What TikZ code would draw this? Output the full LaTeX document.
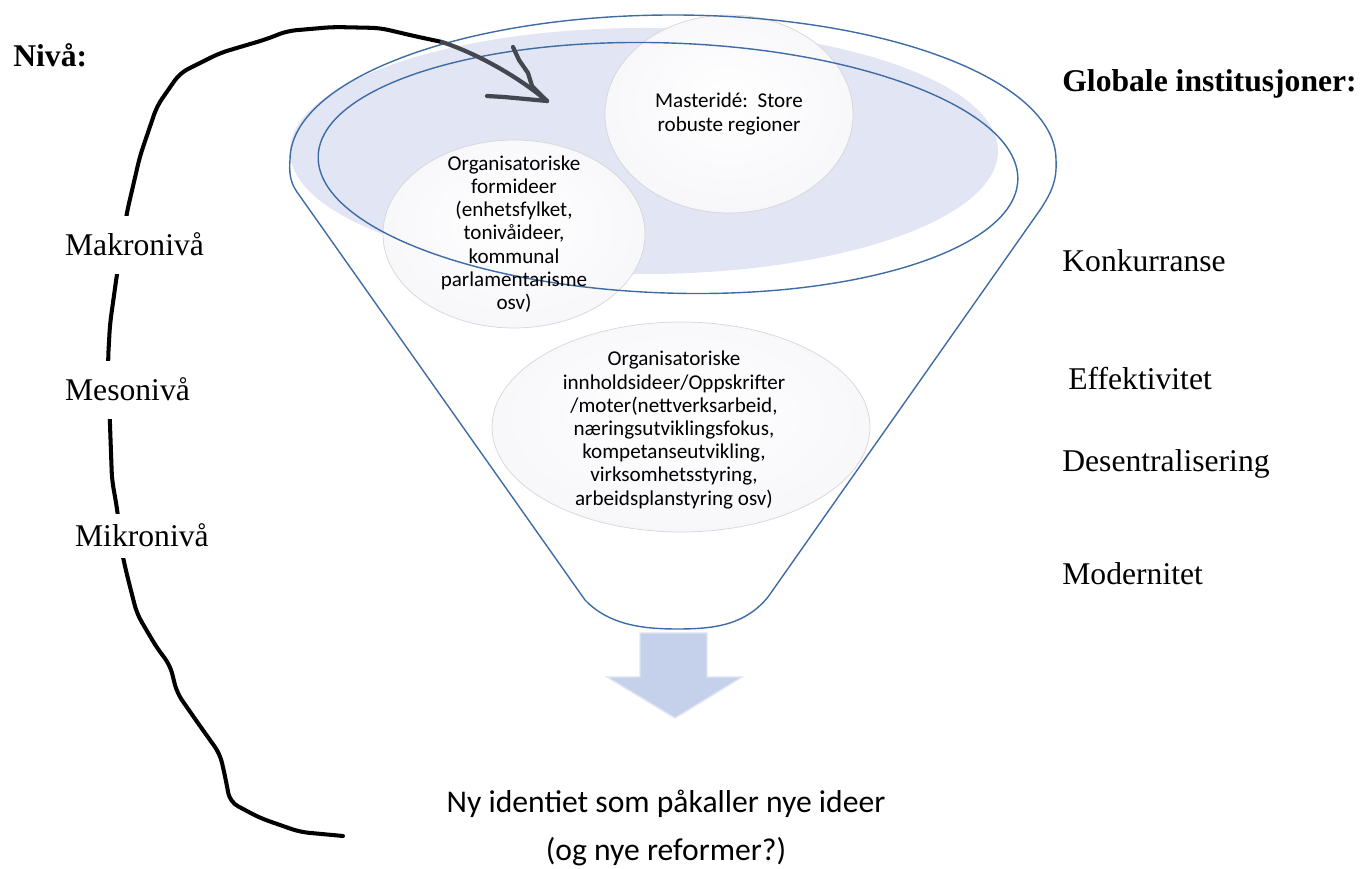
\documentclass[tikz,border=0pt]{standalone}
\usepackage{fontspec}
\usepackage{tikz}
\usetikzlibrary{shapes.geometric}
\setmainfont{Liberation Serif}
\newfontfamily\calibri{Carlito}
\definecolor{funnelblue}{RGB}{62,108,165}
\definecolor{bowlfill}{RGB}{226,229,243}
\definecolor{bubblecore}{RGB}{244,244,249}
\definecolor{arrowblue}{RGB}{197,208,234}
\definecolor{scribble}{RGB}{68,70,80}
\pgfdeclareradialshading{bubble}{\pgfpoint{0bp}{4bp}}{color(0bp)=(white); color(38bp)=(bubblecore); color(45bp)=(bubblecore); color(47.5bp)=(black!14); color(49bp)=(black!24); color(50bp)=(black!12)}

\begin{document}
\begin{tikzpicture}
[x=0.2mm,y=0.2mm,
bubble/.style={ellipse,shading=bubble,draw=black!16,line width=0.4pt,inner sep=0pt},
bubbletext/.style={align=center,font=\calibri\fontsize{12}{13.2}\selectfont},
funnelline/.style={draw=funnelblue,line width=0.8pt},
levellabel/.style={anchor=base west,font=\fontsize{18}{21}\selectfont,fill=white,inner xsep=1pt,inner ysep=10pt},
forcelabel/.style={anchor=base west,font=\fontsize{18}{21}\selectfont,inner sep=0pt},
curve/.style={line width=2.3pt,line join=round,line cap=round,rounded corners=5pt},
scribblearrow/.style={draw=scribble,line width=2.4pt,line join=round,line cap=round}]
\useasboundingbox (0,0) rectangle (1362,-869);

\fill[bowlfill] (644,-151) ellipse (7.08cm and 2.46cm);

\node[bubble,minimum width=4.96cm,minimum height=3.96cm] (master) at (729,-114) {};
\node[bubble,minimum width=5.24cm,minimum height=3.76cm] (formideer) at (514,-234) {};
\node[bubble,minimum width=7.56cm,minimum height=4.2cm] (innhold) at (681,-427) {};

\draw[funnelline] (585,-600) -- (297,-192)
.. controls (290,-182) and (289,-172) .. (290,-160)
arc[start angle=180,end angle=0,x radius=7.66cm,y radius=2.9cm]
.. controls (1057,-180) and (1052,-192) .. (1040,-210)
-- (768,-597)
.. controls (745,-625) and (715,-629) .. (677,-629)
.. controls (640,-629) and (608,-624) .. (585,-600) -- cycle;
\draw[funnelline,rotate around={-2:(668,-168)}] (668,-168) ellipse (7cm and 2.5cm);

\node[bubbletext] (mastertext) at (master.center) {Masteridé:\ \ Store\\robuste regioner};
\node[bubbletext] (formtext) at (formideer.center) {Organisatoriske\\formideer\\(enhetsfylket,\\tonivåideer,\\kommunal\\parlamentarisme\\osv)};
\node[bubbletext] (innholdtext) at (674,-430) {Organisatoriske\\innholdsideer/Oppskrifter\\/moter(nettverksarbeid,\\næringsutviklingsfokus,\\kompetanseutvikling,\\virksomhetsstyring,\\arbeidsplanstyring osv)};

\fill[arrowblue,draw=arrowblue!55!white,line width=0.8pt] (640,-633) -- (707,-633) -- (707,-677) -- (742,-677)
-- (675,-718) -- (607,-677) -- (640,-677) -- cycle;
\node[font=\calibri\fontsize{18}{27.8}\selectfont,align=center] (result) at (666,-828)
{Ny identiet som påkaller nye ideer\\(og nye reformer?)};

\coordinate (curvestart) at (343,-836);
\coordinate (curveend) at (442,-42);
\draw[curve] (curvestart) -- (300,-832) -- (260,-818) -- (230,-802) -- (225,-776) -- (220,-754)
-- (200,-726) -- (177,-693) -- (170,-665) -- (157,-648) -- (137,-614) -- (127,-575)
-- (122,-553) -- (117,-508) -- (112,-480) -- (110,-425) -- (108,-360) -- (110,-324)
-- (117,-274) -- (127,-212) -- (140,-156) -- (157,-106) -- (180,-73) -- (220,-53)
-- (267,-39) -- (287,-31) -- (333,-27) -- (380,-28) -- (414,-36) -- (curveend);

\coordinate (scribbletip) at (547,-101);
\draw[scribblearrow] (curveend) .. controls (472,-52) and (512,-72) .. (scribbletip);
\draw[scribblearrow] (487,-96) -- (504,-97) -- (scribbletip);
\draw[scribblearrow] (513,-47) -- (519,-60) -- (528,-73) -- (532,-86) -- (scribbletip);

\node[forcelabel,font=\fontsize{18}{21}\selectfont\bfseries] (niva) at (13,-67) {Nivå:};
\node[levellabel] (makro) at (63,-256) {Makronivå};
\node[levellabel] (meso) at (63,-401) {Mesonivå};
\node[levellabel,inner ysep=6pt] (mikro) at (73,-547) {Mikronivå};

\node[forcelabel,font=\fontsize{18}{21}\selectfont\bfseries] (globale) at (1062,-92) {Globale institusjoner:};
\node[forcelabel] (konkurranse) at (1062,-272) {Konkurranse};
\node[forcelabel] (effektivitet) at (1068,-390) {Effektivitet};
\node[forcelabel] (desentral) at (1062,-472) {Desentralisering};
\node[forcelabel] (modernitet) at (1062,-585) {Modernitet};
\end{tikzpicture}
\end{document}
